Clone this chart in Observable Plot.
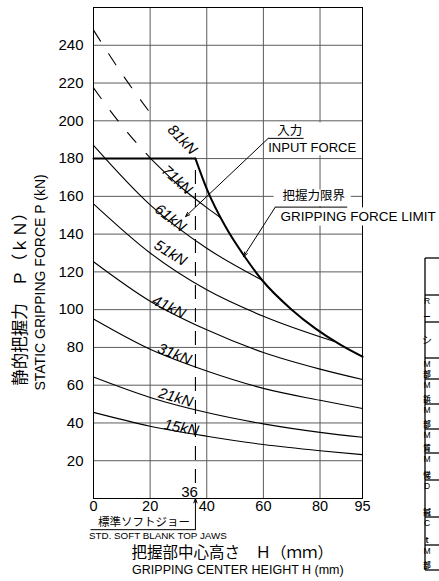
<!DOCTYPE html>
<html><head><meta charset="utf-8">
<script src="https://cdn.jsdelivr.net/npm/d3@7"></script>
<script src="https://cdn.jsdelivr.net/npm/@observablehq/plot@0.6"></script>
<style>body{margin:0;background:#fff;} svg{display:block;}</style>
</head><body><div id="chart"></div>
<script>
// ---- data ----
const xTicks = [0, 20, 40, 60, 80, 95];
const yTicks = [20, 40, 60, 80, 100, 120, 140, 160, 180, 200, 220, 240];
const xGrid = [20, 40, 60, 80];

const H_full = [0, 20, 40, 60, 80, 95];
const P_15 = [45.6, 38.3, 33.0, 28.6, 25.3, 23.2];
const P_21 = [64.3, 53.5, 45.5, 39.5, 35.0, 32.4];
const P_31 = [95.0, 79.0, 67.5, 58.3, 52.0, 47.7];
const P_41 = [125.4, 104.5, 89.3, 77.3, 68.5, 63.0];
const H_51 = [0, 20, 40, 60, 85.1];
const P_51 = [156, 130, 110.5, 96.5, 83.1];
const H_61 = [0, 20, 40, 59.5];
const P_61 = [187, 155.5, 132.5, 115.7];
const H_71 = [20.2, 30, 40, 44.9];
const P_71 = [180, 166, 154, 148.7];
const H_71dash = [0, 10, 20.2];
const P_71dash = [217.4, 197.5, 180];
const H_81dash = [0, 10, 20.6];
const P_81dash = [248, 225, 203];
const H_cap = [0, 36];
const P_cap = [180, 180];
const H_limit = [36, 40, 46.6, 53.6, 59.5, 70, 78.3, 87, 95];
const P_limit = [180, 164, 144, 127.6, 115.7, 100, 90.1, 81.6, 75.1];
const stdJawH = 36;
const curveLabels = ["15kN", "21kN", "31kN", "41kN", "51kN", "61kN", "71kN", "81kN"];

const pts = (H, P) => H.map((h, i) => ({h, p: P[i]}));
const LATIN = "Liberation Sans, Arial, sans-serif";
const JP = "Noto Sans CJK JP, sans-serif";

const solid = [pts(H_full,P_15), pts(H_full,P_21), pts(H_full,P_31), pts(H_full,P_41),
               pts(H_51,P_51), pts(H_61,P_61), pts(H_71,P_71)];
const dashed = [pts(H_71dash,P_71dash), pts(H_81dash,P_81dash)];

// label placement (centre in data units, rotation in degrees)
const labelPos = [
  {x: 31, y: 37.5, r: 11}, {x: 29, y: 53.5, r: 16}, {x: 28.6, y: 76.5, r: 21},
  {x: 26.6, y: 101.4, r: 26}, {x: 27.2, y: 130, r: 32}, {x: 27.2, y: 148.6, r: 38},
  {x: 29.5, y: 168.7, r: 42}, {x: 31.4, y: 190, r: 46}
].map((d, i) => ({...d, text: curveLabels[i]}));

const GRID = "#5c5c5c";
const marks = [
  Plot.gridX(xGrid, {stroke: GRID, strokeOpacity: 1, strokeWidth: 1}),
  Plot.gridY(yTicks, {stroke: GRID, strokeOpacity: 1, strokeWidth: 1}),
  Plot.frame({stroke: "#000", strokeWidth: 1}),
  Plot.axisX({ticks: xTicks, tickSize: 0, tickPadding: 2, fontSize: 14.5, fontFamily: LATIN, label: null, tickFormat: d => d}),
  Plot.axisY({ticks: yTicks, tickSize: 0, tickPadding: 10, fontSize: 15, fontFamily: LATIN, label: null, tickFormat: d => d}),
  ...solid.map(s => Plot.line(s, {x: "h", y: "p", stroke: "#000", strokeWidth: 1.1, curve: "monotone-x"})),
  ...dashed.map(s => Plot.line(s, {x: "h", y: "p", stroke: "#000", strokeWidth: 1.1, curve: "monotone-x", strokeDasharray: "13,15"})),
  Plot.line(pts(H_cap, P_cap), {x: "h", y: "p", stroke: "#000", strokeWidth: 2}),
  Plot.line(pts(H_limit, P_limit), {x: "h", y: "p", stroke: "#000", strokeWidth: 2, curve: "monotone-x"}),
  Plot.ruleX([stdJawH], {y1: 8, y2: 178, stroke: "#000", strokeWidth: 1.1, strokeDasharray: "14,9"}),
  Plot.text(labelPos, {x: "x", y: "y", text: "text", rotate: "r", fontSize: 15, fontStyle: "italic", fontFamily: LATIN, fill: "#000"}),
  // knock-out boxes behind the callouts
  Plot.rect([{x1: 60.7, x2: 92.8, y1: 181.5, y2: 198.9}, {x1: 63.8, x2: 91.0, y1: 154.6, y2: 163.3}, {x1: 64.9, x2: 122, y1: 144.3, y2: 153.9}],
    {x1: "x1", x2: "x2", y1: "y1", y2: "y2", fill: "#fff"}),
  Plot.text(["入力"], {x: 69.3, y: 194.6, fontSize: 12.5, fontFamily: JP, fill: "#000"}),
  Plot.text(["INPUT FORCE"], {x: 61.7, y: 185.8, textAnchor: "start", fontSize: 13, fontFamily: LATIN, fill: "#000"}),
  Plot.text(["把握力限界"], {x: 77.8, y: 160.3, fontSize: 12.5, fontFamily: JP, fill: "#000"}),
  Plot.text(["GRIPPING FORCE LIMIT"], {x: 66.0, y: 149.2, textAnchor: "start", fontSize: 13.5, fontFamily: LATIN, fill: "#000"}),
  Plot.link([{x1: 61.7, x2: 74.2, y: 190.7}, {x1: 64.2, x2: 89.6, y: 154.3}, {x1: -1.06, x2: 36, y: -16.5}],
    {x1: "x1", x2: "x2", y1: "y", y2: "y", stroke: "#000", strokeWidth: 1}),
  Plot.arrow([{x1: 61.7, y1: 190.7, x2: 32.5, y2: 149.3}, {x1: 64.2, y1: 154.3, x2: 53, y2: 128.1}, {x1: 36, y1: -16.5, x2: 36, y2: 0}],
    {x1: "x1", y1: "y1", x2: "x2", y2: "y2", stroke: "#000", strokeWidth: 1, headLength: 7, headAngle: 40}),
  Plot.text(["36"], {x: 33.9, y: 3.6, fontSize: 15, fontFamily: LATIN, fill: "#000"}),
  Plot.text(["標準ソフトジョー"], {x: 17.8, y: -12.8, fontSize: 11.5, fontFamily: JP, fill: "#000"}),
  Plot.text(["STD. SOFT BLANK TOP JAWS"], {x: 22.75, y: -19.7, fontSize: 9.8, fontFamily: LATIN, fill: "#000"}),
  Plot.text(["把握部中心高さ　Ｈ（ｍｍ）"], {x: 49.0, y: -29.0, fontSize: 15.5, fontFamily: JP, fill: "#000"}),
  Plot.text(["GRIPPING CENTER HEIGHT H (mm)"], {x: 51.0, y: -37.7, fontSize: 12.5, fontFamily: LATIN, fill: "#000"}),
  Plot.text(["静的把握力　Ｐ（ｋＮ）"], {x: -25.7, y: 107.8, rotate: -90, fontSize: 16.5, fontFamily: JP, fill: "#000"}),
  Plot.text(["STATIC GRIPPING FORCE P (kN)"], {x: -18.6, y: 114.4, rotate: -90, fontSize: 14, fontFamily: LATIN, fill: "#000"})
];

const chart = Plot.plot({
  width: 439, height: 581,
  marginLeft: 93, marginRight: 77, marginTop: 7, marginBottom: 83,
  x: {domain: [0, 95]}, y: {domain: [0, 260]},
  style: {background: "#fff", overflow: "visible"},
  marks
});
document.getElementById("chart").appendChild(chart);

// cropped fragment of the specification table at the right edge
const svg = d3.select(chart);
const rowLines = [258, 295, 322, 358, 379, 404, 429, 453, 480, 517, 545, 570];
const g = svg.append("g");
g.append("line").attr("x1", 425).attr("x2", 425).attr("y1", 258).attr("y2", 570).attr("stroke", "#000").attr("stroke-width", 1.3);
rowLines.forEach(y => g.append("line").attr("x1", 425).attr("x2", 440).attr("y1", y).attr("y2", y).attr("stroke", "#000").attr("stroke-width", 1.3));
const rowText = [[], ["R", "ー"], ["シ"], ["M", "部"], ["M", "鋲"], ["M", "部"], ["M", "質"], ["M", "悌"], ["D", "鍼"], ["C", "t"], ["M", "部"]];
rowText.forEach((t, i) => {
  const top = rowLines[i], bot = rowLines[i + 1];
  if (t.length === 1) {
    g.append("text").attr("x", 427).attr("y", (top + bot) / 2 + 4).attr("font-size", 10).attr("font-family", JP).text(t[0]);
  } else if (t.length === 2) {
    g.append("text").attr("x", 427).attr("y", top + 9).attr("font-size", 8.5).attr("font-family", LATIN).text(t[0]);
    g.append("text").attr("x", 427).attr("y", bot - 2).attr("font-size", 7.5).attr("font-weight", "bold").attr("font-family", JP).text(t[1]);
  }
});
</script></body></html>
